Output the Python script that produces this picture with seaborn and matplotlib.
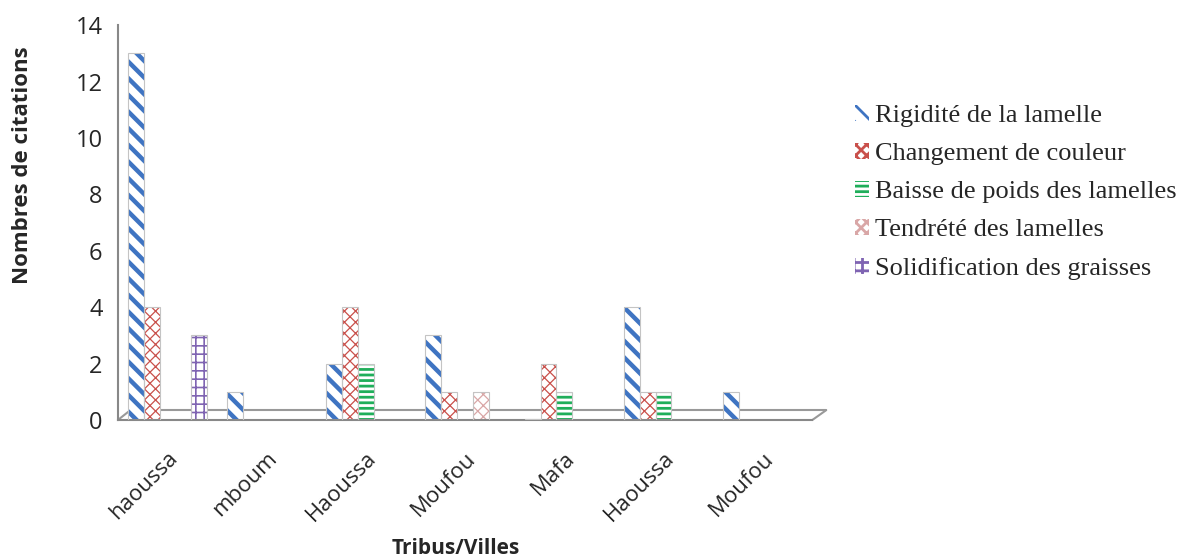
import matplotlib
matplotlib.use("Agg")
import matplotlib.pyplot as plt
from matplotlib.patches import Rectangle
import seaborn as sns
import pandas as pd
import numpy as np

# Categories (tribes / towns) and citation counts per indicator
categories = ["haoussa", "mboum", "Haoussa", "Moufou", "Mafa", "Haoussa", "Moufou"]
series_names = [
    "Rigidité de la lamelle",
    "Changement de couleur",
    "Baisse de poids des lamelles",
    "Tendrété des lamelles",
    "Solidification des graisses",
]
rigidite = [13, 1, 2, 3, 0.05, 4, 1]
changement = [4, 0, 4, 1, 2, 1, 0]
baisse = [0, 0, 2, 0, 1, 1, 0]
tendrete = [0, 0, 0, 1, 0, 0, 0]
solidification = [3, 0, 0, 0, 0, 0, 0]
yticks = [0, 2, 4, 6, 8, 10, 12, 14]

values = [rigidite, changement, baisse, tendrete, solidification]
rows = []
for name, vals in zip(series_names, values):
    for i, (cat, v) in enumerate(zip(categories, vals)):
        rows.append({"pos": i, "cat": cat, "serie": name, "val": v})
df = pd.DataFrame(rows)

sns.set_style("white")
plt.rcParams["hatch.linewidth"] = 2.0

hatch_colors = ["#3f74c2", "#c9504b", "#1fae5a", "#d9a7a7", "#7f64b2"]
hatches = ["\\\\", "xxx", "---", "xxx", "++"]
hatch_lw = [3.2, 0.9, 2.0, 0.9, 1.2]

fig = plt.figure(figsize=(11.79, 5.6), dpi=100)
ax = fig.add_axes([0.100, 0.25, 0.589, 0.705])

sns.barplot(data=df, x="pos", y="val", hue="serie", hue_order=series_names,
            palette=["white"] * 5, width=0.80, ax=ax, legend=True, saturation=1)


def style_patch(p, col, h, lw):
    p.set_hatch(h)
    p.set_edgecolor(col)
    p.set_facecolor("white")
    p.set_linewidth(0)
    if hasattr(p, "set_hatch_linewidth"):
        p.set_hatch_linewidth(lw)


for cont, col, h, lw in zip(ax.containers, hatch_colors, hatches, hatch_lw):
    for bar in cont:
        style_patch(bar, col, h, lw)
        bar.set_zorder(2)
        if bar.get_height() <= 0:
            bar.set_visible(False)
        else:
            # thin grey outline around each bar
            ax.add_patch(Rectangle(bar.get_xy(), bar.get_width(), bar.get_height(),
                                   fill=False, edgecolor="#c4c4c4", lw=0.8, zorder=3))

ax.set_ylim(0, 14)
ax.set_xlim(-0.5, len(categories) - 0.5)
ax.set_yticks(yticks)
ax.set_yticklabels([str(t) for t in yticks], fontfamily="Open Sans", fontsize=17)

# boundary ticks on the x axis, labels centred on each group
ax.set_xticks(np.arange(-0.5, len(categories), 1.0))
ax.set_xticklabels([])
ax.set_xticks(np.arange(len(categories)), minor=True)
ax.set_xticklabels(categories, minor=True, rotation=45, ha="right",
                   rotation_mode="anchor", fontfamily="Open Sans", fontsize=16)
ax.tick_params(axis="x", which="minor", length=0, pad=20)
ax.tick_params(axis="x", which="major", length=7, color="#888888", width=1.2)
ax.tick_params(axis="y", length=6, color="#888888", width=1.2, pad=5)

for s in ["top", "right"]:
    ax.spines[s].set_visible(False)
for s in ["left", "bottom"]:
    ax.spines[s].set_color("#888888")
    ax.spines[s].set_linewidth(1.5)

# floor of the plot area
floor_kw = dict(color="#999999", lw=1.5, transform=ax.transAxes, clip_on=False,
                zorder=1)
ax.plot([0.0, 0.018], [0.0, 0.025], **floor_kw)
ax.plot([0.018, 1.02], [0.025, 0.025], **floor_kw)
ax.plot([1.0, 1.02], [0.0, 0.025], **floor_kw)

ax.set_xlabel("Tribus/Villes", fontfamily="Open Sans", fontweight="bold",
              fontsize=15)
ax.xaxis.set_label_coords(0.487, -0.325)
ax.xaxis.label.set_va("center")
ax.set_ylabel("Nombres de citations", fontfamily="Open Sans", fontweight="bold",
              fontsize=16)
ax.yaxis.set_label_coords(-0.137, 0.645)
ax.yaxis.label.set_va("center")

handles, labels = ax.get_legend_handles_labels()
for hd, col, h, lw in zip(handles, hatch_colors, hatches, hatch_lw):
    style_patch(hd, col, h, lw)
ax.legend(handles, labels, loc="upper left", bbox_to_anchor=(0.725, 0.813),
          bbox_transform=fig.transFigure, frameon=False,
          prop={"family": "Liberation Serif", "size": 19},
          handlelength=0.55, handleheight=0.55, handletextpad=0.2,
          labelspacing=0.6, borderaxespad=0, borderpad=0)

fig.savefig("out.png", dpi=100)
